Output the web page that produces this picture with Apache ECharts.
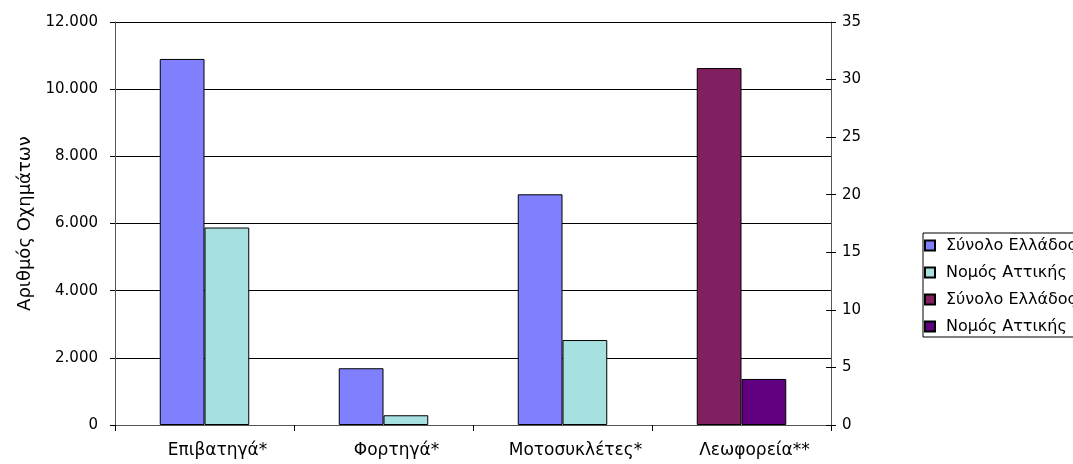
<!DOCTYPE html>
<html>
<head>
<meta charset="utf-8">
<script src="https://cdn.jsdelivr.net/npm/echarts@6/dist/echarts.min.js"></script>
<style>
html,body{margin:0;padding:0;background:#fff;}
#chart{width:1073px;height:464px;}
</style>
</head>
<body>
<div id="chart"></div>
<script>
// Data
const categories = ['Επιβατηγά*', 'Φορτηγά*', 'Μοτοσυκλέτες*', 'Λεωφορεία**'];
const greeceLeft = [10900, 1690, 6870, null];
const atticaLeft = [5880, 290, 2530, null];
const greeceRight = [null, null, null, 31];
const atticaRight = [null, null, null, 4];
const leftTicks = [0, 2000, 4000, 6000, 8000, 10000, 12000];
const rightTicks = [0, 5, 10, 15, 20, 25, 30, 35];
const seriesNames = ['Σύνολο Ελλάδος', 'Νομός Αττικής', 'Σύνολο Ελλάδος ', 'Νομός Αττικής '];
const yTitle = 'Αριθμός Οχημάτων';

const FONT = '"DejaVu Sans", sans-serif';
const fmt = v => String(v).replace(/\B(?=(\d{3})+(?!\d))/g, '.');

const chart = echarts.init(document.getElementById('chart'), null, {renderer: 'canvas'});
const barBorder = {borderColor: '#000', borderWidth: 1};
const option = {
  animation: false,
  backgroundColor: '#fff',
  textStyle: {fontFamily: FONT},
  grid: {left: 115, right: 242, top: 22, bottom: 39, containLabel: false},
  legend: {
    orient: 'vertical',
    left: 923, top: 233,
    data: seriesNames,
    icon: 'rect',
    itemWidth: 10, itemHeight: 10,
    itemGap: 8,
    borderColor: '#000', borderWidth: 1,
    padding: [3, 200, 1, 1],
    textStyle: {fontFamily: FONT, fontSize: 16, color: '#000', padding: [0, 0, 0, 6], lineHeight: 19},
    selectedMode: false
  },
  xAxis: [
    {
      type: 'category', data: categories,
      axisLine: {lineStyle: {color: '#555', width: 1}},
      axisTick: {show: true, length: 6, lineStyle: {color: '#000'}},
      axisLabel: {fontFamily: FONT, fontSize: 17, color: '#000', margin: 17, padding: [0, 0, 0, 26]},
      splitLine: {show: false}
    },
    {
      type: 'category', data: categories, show: false
    }
  ],
  yAxis: [
    {
      type: 'value', min: 0, max: 12000, interval: 2000, position: 'left',
      name: yTitle, nameLocation: 'middle', nameGap: 76, nameRotate: 90,
      nameTextStyle: {fontFamily: FONT, fontSize: 18, color: '#000'},
      axisLine: {show: true, lineStyle: {color: '#555'}},
      axisTick: {show: true, length: 5, lineStyle: {color: '#000'}},
      axisLabel: {fontFamily: FONT, fontSize: 15, color: '#000', margin: 17, formatter: v => fmt(v)},
      splitLine: {show: true, lineStyle: {color: '#000', width: 1}}
    },
    {
      type: 'value', min: 0, max: 35, interval: 5, position: 'right',
      axisLine: {show: true, lineStyle: {color: '#555'}},
      axisTick: {show: true, length: 5, lineStyle: {color: '#000'}},
      axisLabel: {fontFamily: FONT, fontSize: 15, color: '#000', margin: 11},
      splitLine: {show: false}
    },
    {
      type: 'value', min: 0, max: 35, interval: 5, position: 'right',
      axisLine: {show: false},
      axisTick: {show: true, inside: true, length: 5, lineStyle: {color: '#000'}},
      axisLabel: {show: false},
      splitLine: {show: false}
    }
  ],
  series: [
    {name: seriesNames[0], type: 'bar', xAxisIndex: 0, yAxisIndex: 0, data: greeceLeft,
     barGap: '0%', barCategoryGap: '50%', itemStyle: Object.assign({color: '#8080FF'}, barBorder)},
    {name: seriesNames[1], type: 'bar', xAxisIndex: 0, yAxisIndex: 0, data: atticaLeft,
     barGap: '0%', barCategoryGap: '50%', itemStyle: Object.assign({color: '#A6E0E0'}, barBorder)},
    {name: seriesNames[2], type: 'bar', xAxisIndex: 1, yAxisIndex: 1, data: greeceRight,
     barGap: '0%', barCategoryGap: '50%', itemStyle: Object.assign({color: '#802060'}, barBorder)},
    {name: seriesNames[3], type: 'bar', xAxisIndex: 1, yAxisIndex: 1, data: atticaRight,
     barGap: '0%', barCategoryGap: '50%', itemStyle: Object.assign({color: '#600080'}, barBorder)}
  ]
};
chart.setOption(option);
</script>
</body>
</html>
